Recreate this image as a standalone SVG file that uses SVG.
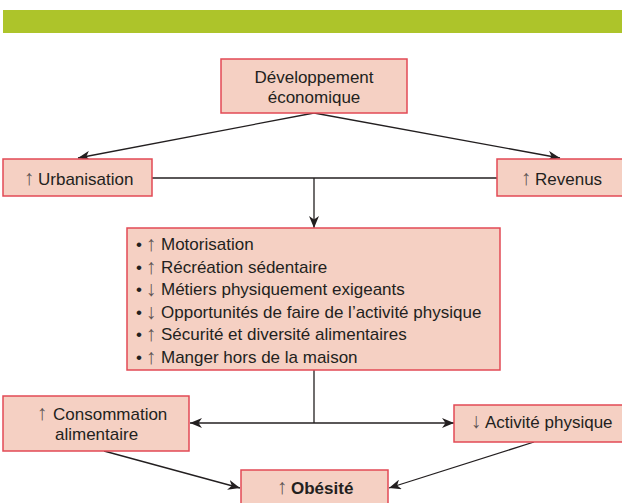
<svg xmlns="http://www.w3.org/2000/svg" width="622" height="503" viewBox="0 0 622 503">
<defs>
<marker id="ah" markerUnits="userSpaceOnUse" markerWidth="13" markerHeight="10" refX="12" refY="5" orient="auto">
<path d="M0,0 L12,5 L0,10 L3.5,5 z" fill="#231F20"/>
</marker>
<style>
.box{fill:#F5D0C3;stroke:#E24A55;stroke-width:1.5}
.t{font-family:"Liberation Sans",Arial,"DejaVu Sans",sans-serif;font-size:17px;fill:#231F20}
.ar{font-size:21px;fill:#5E5454}
.c{stroke:#231F20;stroke-width:1.3;fill:none}
.a{marker-end:url(#ah)}
</style>
</defs>
<rect width="622" height="503" fill="#ffffff"/>
<rect x="3" y="10" width="619" height="23" fill="#ADC42A"/>
<g id="connectors">
<line class="c a" x1="314" y1="113" x2="78" y2="158"/>
<line class="c a" x1="314" y1="113" x2="560" y2="158"/>
<line class="c" x1="152" y1="178" x2="497" y2="178"/>
<line class="c a" x1="314" y1="178" x2="314" y2="228"/>
<line class="c" x1="314" y1="370" x2="314" y2="423"/>
<line class="c a" x1="314" y1="423" x2="190" y2="423"/>
<line class="c a" x1="314" y1="423" x2="454" y2="423"/>
<line class="c a" x1="104" y1="451" x2="240" y2="488"/>
<line class="c a" x1="534" y1="442" x2="389" y2="488"/>
</g>
<g id="dev">
<rect class="box" x="221" y="59" width="186" height="54"/>
<text class="t" x="314" y="83" text-anchor="middle">Développement</text>
<text class="t" x="314" y="103" text-anchor="middle">économique</text>
</g>
<g id="urb">
<rect class="box" x="3" y="159" width="149" height="37"/>
<text class="t" y="185"><tspan class="ar" x="29" text-anchor="middle">↑</tspan><tspan x="38">Urbanisation</tspan></text>
</g>
<g id="rev">
<rect class="box" x="497" y="159" width="130" height="37"/>
<text class="t" y="185"><tspan class="ar" x="526" text-anchor="middle">↑</tspan><tspan x="535">Revenus</tspan></text>
</g>
<g id="list">
<rect class="box" x="127" y="228" width="373" height="142"/>
<text class="t"><tspan x="139" y="250" text-anchor="middle">•</tspan><tspan class="ar" x="151" y="251" text-anchor="middle">↑</tspan><tspan x="161" y="250">Motorisation</tspan></text>
<text class="t"><tspan x="139" y="272.5" text-anchor="middle">•</tspan><tspan class="ar" x="151" y="273.5" text-anchor="middle">↑</tspan><tspan x="161" y="272.5">Récréation sédentaire</tspan></text>
<text class="t"><tspan x="139" y="295" text-anchor="middle">•</tspan><tspan class="ar" x="151" y="296" text-anchor="middle">↓</tspan><tspan x="161" y="295">Métiers physiquement exigeants</tspan></text>
<text class="t"><tspan x="139" y="317.5" text-anchor="middle">•</tspan><tspan class="ar" x="151" y="318.5" text-anchor="middle">↓</tspan><tspan x="161" y="317.5">Opportunités de faire de l’activité physique</tspan></text>
<text class="t"><tspan x="139" y="340" text-anchor="middle">•</tspan><tspan class="ar" x="151" y="341" text-anchor="middle">↑</tspan><tspan x="161" y="340">Sécurité et diversité alimentaires</tspan></text>
<text class="t"><tspan x="139" y="362.5" text-anchor="middle">•</tspan><tspan class="ar" x="151" y="363.5" text-anchor="middle">↑</tspan><tspan x="161" y="362.5">Manger hors de la maison</tspan></text>
</g>
<g id="conso">
<rect class="box" x="3" y="396" width="186" height="55"/>
<text class="t" y="420"><tspan class="ar" x="42" text-anchor="middle">↑</tspan><tspan x="53">Consommation</tspan></text>
<text class="t" x="55" y="440">alimentaire</text>
</g>
<g id="act">
<rect class="box" x="454" y="405" width="173" height="37"/>
<text class="t" y="428"><tspan class="ar" x="476" text-anchor="middle">↓</tspan><tspan x="485">Activité physique</tspan></text>
</g>
<g id="obes">
<rect class="box" x="241" y="470" width="147" height="45"/>
<text class="t" y="494"><tspan class="ar" x="282" text-anchor="middle">↑</tspan><tspan x="291" font-weight="bold">Obésité</tspan></text>
</g>
</svg>
